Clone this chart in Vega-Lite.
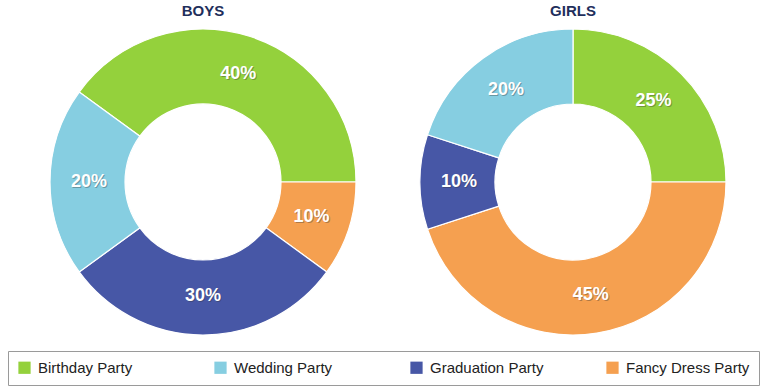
{
  "$schema": "https://vega.github.io/schema/vega-lite/v6.json",
  "background": "white",
  "padding": {"left": 0, "top": 3, "right": 0, "bottom": 0},
  "datasets": {
    "parties": [
      {"group": "BOYS", "party": "Birthday Party", "share": 0.40, "ord": 1},
      {"group": "BOYS", "party": "Fancy Dress Party", "share": 0.10, "ord": 2},
      {"group": "BOYS", "party": "Graduation Party", "share": 0.30, "ord": 3},
      {"group": "BOYS", "party": "Wedding Party", "share": 0.20, "ord": 4},
      {"group": "GIRLS", "party": "Birthday Party", "share": 0.25, "ord": 1},
      {"group": "GIRLS", "party": "Fancy Dress Party", "share": 0.45, "ord": 2},
      {"group": "GIRLS", "party": "Graduation Party", "share": 0.10, "ord": 3},
      {"group": "GIRLS", "party": "Wedding Party", "share": 0.20, "ord": 4}
    ]
  },
  "spacing": 0,
  "hconcat": [
    {
      "width": 406,
      "height": 310,
      "title": {"text": "BOYS"},
      "data": {"name": "parties"},
      "transform": [{"filter": "datum.group === 'BOYS'"}],
      "encoding": {
        "theta": {"field": "share", "type": "quantitative", "stack": true,
          "scale": {"domain": [0, 1], "nice": false, "range": [-0.9425, 5.3407]}},
        "order": {"field": "ord", "type": "quantitative"}
      },
      "layer": [
        {
          "mark": {"type": "arc", "outerRadius": 153, "innerRadius": 78, "stroke": "white", "strokeWidth": 1.2},
          "encoding": {
            "color": {"field": "party", "type": "nominal",
              "scale": {"domain": ["Birthday Party", "Wedding Party", "Graduation Party", "Fancy Dress Party"],
                        "range": ["#94d13c", "#86cee1", "#4757a6", "#f5a050"]},
              "legend": {"orient": "none", "legendX": 8, "legendY": 324, "direction": "horizontal",
                "columns": 4, "gridAlign": "all", "columnPadding": 51, "padding": 9,
                "strokeColor": "#9a9a9a", "fillColor": "white", "title": null,
                "labelFontSize": 15, "labelColor": "#222222", "labelFont": "Liberation Sans",
                "symbolType": "square", "symbolSize": 150, "symbolStrokeWidth": 0, "labelOffset": 6}}
          }
        },
        {
          "mark": {"type": "text", "radius": 114, "fontSize": 18, "fontWeight": "bold", "font": "Liberation Sans",
                   "fill": "#333333", "opacity": 0.35, "dx": 1, "dy": 1},
          "encoding": {"text": {"field": "share", "type": "quantitative", "format": ".0%"}}
        },
        {
          "mark": {"type": "text", "radius": 114, "fontSize": 18, "fontWeight": "bold", "font": "Liberation Sans",
                   "fill": "#ffffff"},
          "encoding": {"text": {"field": "share", "type": "quantitative", "format": ".0%"}}
        }
      ]
    },
    {
      "width": 334,
      "height": 310,
      "title": {"text": "GIRLS"},
      "data": {"name": "parties"},
      "transform": [{"filter": "datum.group === 'GIRLS'"}],
      "encoding": {
        "theta": {"field": "share", "type": "quantitative", "stack": true,
          "scale": {"domain": [0, 1], "nice": false, "range": [0, 6.2832]}},
        "order": {"field": "ord", "type": "quantitative"}
      },
      "layer": [
        {
          "mark": {"type": "arc", "outerRadius": 153, "innerRadius": 78, "stroke": "white", "strokeWidth": 1.2},
          "encoding": {
            "color": {"field": "party", "type": "nominal"}
          }
        },
        {
          "mark": {"type": "text", "radius": 114, "fontSize": 18, "fontWeight": "bold", "font": "Liberation Sans",
                   "fill": "#333333", "opacity": 0.35, "dx": 1, "dy": 1},
          "encoding": {"text": {"field": "share", "type": "quantitative", "format": ".0%"}}
        },
        {
          "mark": {"type": "text", "radius": 114, "fontSize": 18, "fontWeight": "bold", "font": "Liberation Sans",
                   "fill": "#ffffff"},
          "encoding": {"text": {"field": "share", "type": "quantitative", "format": ".0%"}}
        }
      ]
    }
  ],
  "resolve": {"scale": {"theta": "independent", "color": "shared"}},
  "config": {
    "view": {"stroke": null},
    "font": "Liberation Sans",
    "title": {"fontSize": 15, "fontWeight": "bold", "color": "#1f2f5c", "anchor": "middle", "offset": 8, "font": "Liberation Sans"}
  }
}
